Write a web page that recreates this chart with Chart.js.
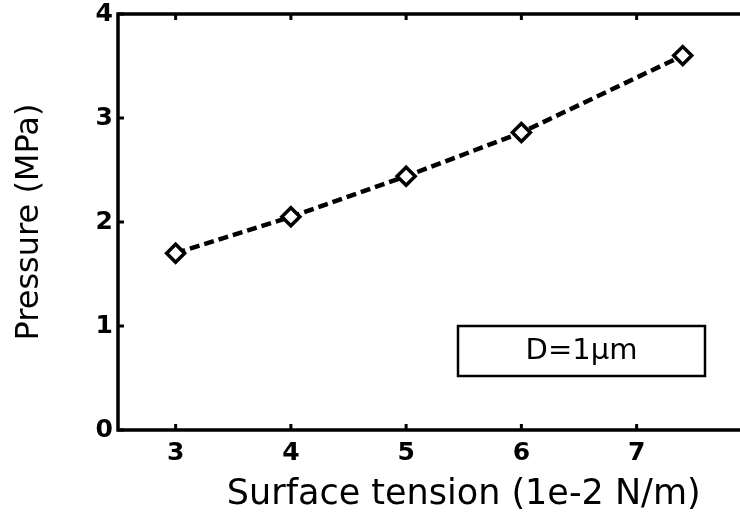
<!DOCTYPE html>
<html>
<head>
<meta charset="utf-8">
<script src="https://cdn.jsdelivr.net/npm/chart.js@4/dist/chart.umd.min.js"></script>
<style>
  html, body { margin: 0; padding: 0; background: #fff; overflow: hidden; }
  #wrap { width: 822px; height: 516px; }
</style>
</head>
<body>
<div id="wrap"><canvas id="chart" width="822" height="516"></canvas></div>
<script>
// data
const tension = [3, 4, 5, 6, 7.4];
const pressure = [1.70, 2.05, 2.44, 2.86, 3.60];
const xTicks = [3, 4, 5, 6, 7, 8];
const yTicks = [0, 1, 2, 3, 4];
const boxLabel = 'D=1\u03bcm';

const FONT = '"DejaVu Sans", Verdana, sans-serif';

// frame, inward ticks and the label box
const framePlugin = {
    id: 'frame',
    afterDraw(chart) {
        const ctx = chart.ctx;
        const a = chart.chartArea;
        const xs = chart.scales.x;
        const ys = chart.scales.y;
        ctx.save();
        ctx.strokeStyle = '#000';
        ctx.lineWidth = 3.5;
        ctx.strokeRect(a.left, a.top, a.right - a.left, a.bottom - a.top);

        ctx.lineWidth = 3;
        ctx.beginPath();
        xTicks.forEach(v => {
            const px = xs.getPixelForValue(v);
            ctx.moveTo(px, a.bottom);
            ctx.lineTo(px, a.bottom - 6);
            ctx.moveTo(px, a.top);
            ctx.lineTo(px, a.top + 6);
        });
        yTicks.forEach(v => {
            const py = ys.getPixelForValue(v);
            ctx.moveTo(a.left, py);
            ctx.lineTo(a.left + 6, py);
        });
        ctx.stroke();

        // legend-like box
        const bx = a.left + 340, by = a.bottom - 104, bw = 247, bh = 50;
        ctx.fillStyle = '#fff';
        ctx.fillRect(bx, by, bw, bh);
        ctx.lineWidth = 2.5;
        ctx.strokeRect(bx, by, bw, bh);
        ctx.fillStyle = '#000';
        ctx.font = '29px ' + FONT;
        ctx.textAlign = 'center';
        ctx.textBaseline = 'middle';
        ctx.fillText(boxLabel, bx + bw / 2, by + bh / 2);
        ctx.restore();
    }
};

new Chart(document.getElementById('chart'), {
    type: 'scatter',
    data: {
        datasets: [{
            data: tension.map((t, i) => ({ x: t, y: pressure[i] })),
            showLine: true,
            borderColor: '#000',
            borderWidth: 4.5,
            borderDash: [10, 5],
            pointStyle: 'rectRot',
            pointRadius: 9,
            pointBorderWidth: 3.5,
            pointBackgroundColor: '#fff',
            pointBorderColor: '#000'
        }]
    },
    options: {
        responsive: false,
        animation: false,
        layout: { padding: { top: 14, right: 4, left: 0, bottom: 0 } },
        plugins: {
            legend: { display: false },
            tooltip: { enabled: false }
        },
        scales: {
            x: {
                type: 'linear',
                min: 2.5,
                max: 8.5,
                afterBuildTicks: s => { s.ticks = xTicks.map(v => ({ value: v })); },
                afterFit: s => { s.height = 86; },
                grid: { display: false },
                border: { display: false },
                ticks: {
                    color: '#000',
                    padding: 0,
                    maxRotation: 0,
                    font: { family: FONT, size: 25, weight: 'bold' }
                },
                title: {
                    display: true,
                    text: 'Surface tension (1e-2 N/m)',
                    color: '#000',
                    padding: { top: 10, bottom: 0 },
                    font: { family: FONT, size: 35 }
                }
            },
            y: {
                min: 0,
                max: 4,
                afterBuildTicks: s => { s.ticks = yTicks.map(v => ({ value: v })); },
                afterFit: s => { s.width = 118; },
                grid: { display: false },
                border: { display: false },
                ticks: {
                    color: '#000',
                    padding: -3,
                    font: { family: FONT, size: 25, weight: 'bold' }
                },
                title: {
                    display: true,
                    text: 'Pressure (MPa)',
                    color: '#000',
                    padding: { top: 10, bottom: 8 },
                    font: { family: FONT, size: 32 }
                }
            }
        }
    },
    plugins: [framePlugin]
});
</script>
</body>
</html>
